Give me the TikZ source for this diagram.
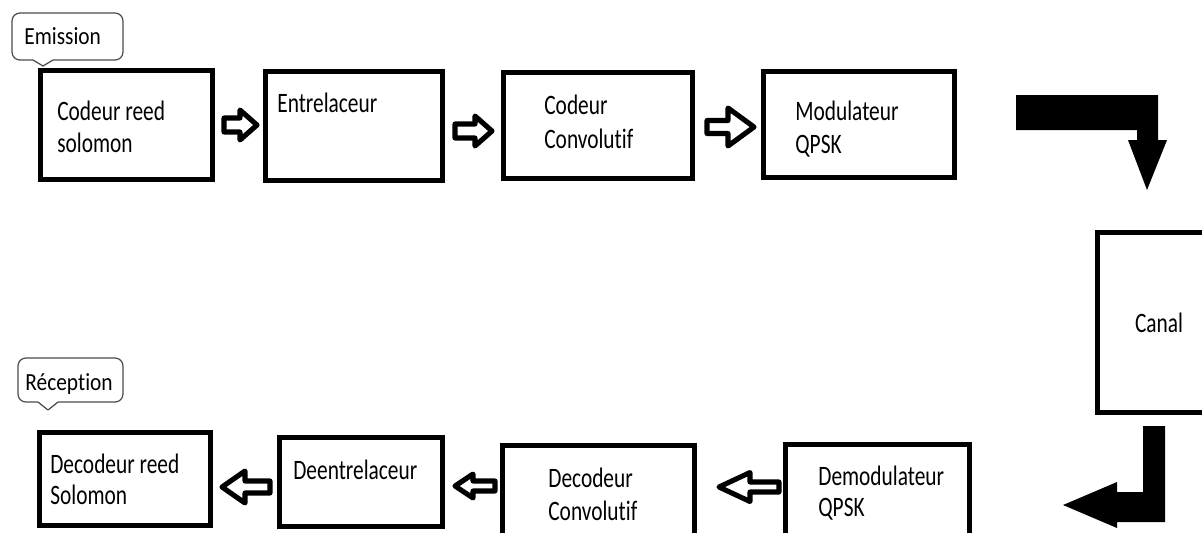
\documentclass[tikz,border=0pt]{standalone}
\usepackage{fontspec}
\setmainfont{Carlito}
\newfontfamily\boxfont[FakeStretch=0.76,Ligatures=NoCommon]{Carlito}
\newfontfamily\tagfont[FakeStretch=0.87,Ligatures=NoCommon]{Carlito}
% keeps "t" and "i" as separate glyphs
\newcommand\nolig{\kern0pt }

% rectangle node from its outer edges (x1,y1,x2,y2 in px units)
\newcommand\placebox[5]{%
  \node[blockbox,
        minimum width={(#4-#2-5.5)*0.02cm},
        minimum height={(#5-#3-5.5)*0.02cm}]
    (#1) at ({(#2+#4)/2},{(#3+#5)/2}) {};}

% hollow block arrow: tail x, head base x, tip x, centre y, shaft half, head half
\newcommand\blockarrow[6]{%
  \draw[hollow] (#1,{#4-#5}) -- (#2,{#4-#5}) -- (#2,{#4-#6}) -- (#3,#4)
    -- (#2,{#4+#6}) -- (#2,{#4+#5}) -- (#1,{#4+#5}) -- cycle;}

\begin{document}
\begin{tikzpicture}[x=0.02cm,y=-0.02cm,
  blockbox/.style={draw=black, line width=3.1pt, inner sep=0pt},
  boxtext/.style={font=\boxfont\fontsize{16}{19}\selectfont, anchor=base west,
                  inner sep=0pt, text=black},
  centretext/.style={font=\boxfont\fontsize{16}{19}\selectfont, anchor=base,
                  inner sep=0pt, text=black},
  tagtext/.style={font=\tagfont\fontsize{14}{16}\selectfont, anchor=base west,
                  inner sep=0pt, text=black},
  tagline/.style={draw=black!70, line width=0.7pt},
  hollow/.style={draw=black, line width=2.9pt, fill=white, line join=round},
  heavy/.style={fill=black}]
\clip (0,0) rectangle (1202,532);
\useasboundingbox (0,0) rectangle (1202,532);

% ---- emission chain ----
\placebox{rsenc}{38}{68}{215}{182}
\placebox{inter}{263}{69}{445}{183}
\placebox{convenc}{501}{70}{695}{181}
\placebox{mod}{761}{69}{957}{180}

\node[boxtext] (rsencA) at (57,120) {Codeur reed};
\node[boxtext] (rsencB) at (57,152) {solomon};
\node[boxtext] (interA) at (277,112) {Entrelaceur};
\node[boxtext] (convencA) at (544,114) {Codeur};
\node[boxtext] (convencB) at (544,148) {Convolut\nolig if};
\node[boxtext] (modA) at (795,120) {Modulateur};
\node[boxtext] (modB) at (795,153) {QPSK};

\blockarrow{224}{240}{257}{125}{7}{15}
\blockarrow{455}{475}{492}{131}{7}{15}
\blockarrow{707}{728}{754}{127}{6.5}{19}

% ---- channel ----
\placebox{canal}{1095}{230}{1215}{415}
\node[centretext] (canalA) at (1159,332) {Canal};

\fill[heavy] (1016,95) -- (1158,95) -- (1158,140) -- (1167,140) -- (1147,190)
  -- (1128,140) -- (1137,140) -- (1137,130) -- (1016,130) -- cycle;
\fill[heavy] (1143,426) -- (1165,426) -- (1165,522) -- (1117,522) -- (1117,528)
  -- (1063,505) -- (1117,482) -- (1117,492) -- (1143,492) -- cycle;

% ---- reception chain ----
\placebox{rsdec}{37}{430}{213}{528}
\placebox{deinter}{277}{435}{445}{529}
\placebox{convdec}{500}{443}{697}{545}
\placebox{demod}{783}{442}{972}{545}

\node[boxtext] (rsdecA) at (50,473) {Decodeur reed};
\node[boxtext] (rsdecB) at (50,504) {Solomon};
\node[boxtext] (deinterA) at (293,479) {Deentrelaceur};
\node[boxtext] (convdecA) at (548,487) {Decodeur};
\node[boxtext] (convdecB) at (548,520) {Convolut\nolig if};
\node[boxtext] (demodA) at (818,485) {Demodulateur};
\node[boxtext] (demodB) at (818,516) {QPSK};

\blockarrow{270}{245}{222}{487}{6}{16}
\blockarrow{495}{473}{455}{486}{5}{12}
\blockarrow{779}{750}{719}{487}{5}{14.5}

% ---- callout tags ----
\draw[tagline, rounded corners=4.5pt] (12,13) rectangle (123,60);
\fill[white] (33,58.5) rectangle (53,61.5);
\draw[tagline, line join=round] (33,60) -- (43,66) -- (53,60);
\node[tagtext] (emis) at (24,44) {Emission};

\draw[tagline, rounded corners=4.5pt] (18,358) rectangle (123,402);
\fill[white] (38,400.5) rectangle (58,403.5);
\draw[tagline, line join=round] (38,402) -- (48,410) -- (58,402);
\node[tagtext] (recep) at (25,390) {Réception};
\end{tikzpicture}
\end{document}
